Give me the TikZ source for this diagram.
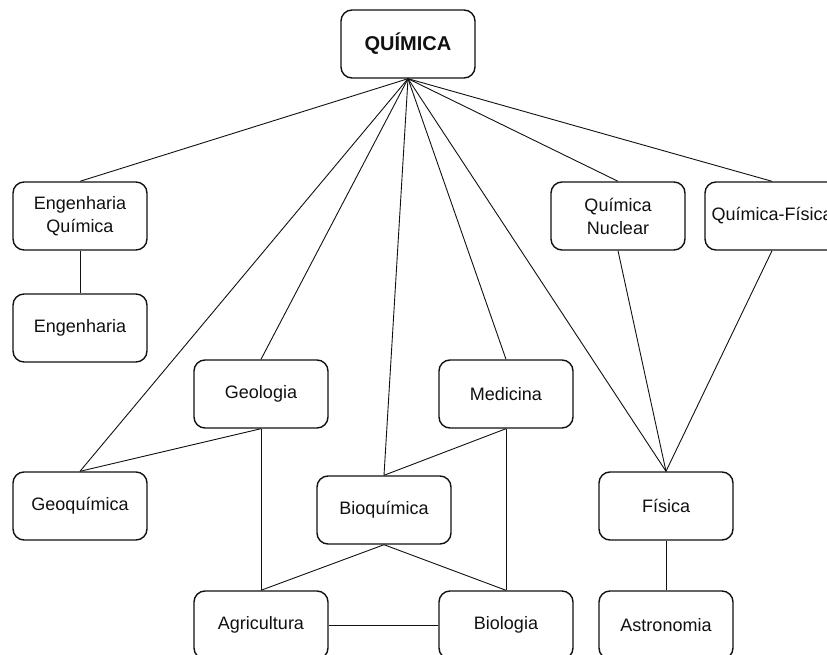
\documentclass[tikz,border=0pt]{standalone}
\usepackage{fontspec}
\setmainfont{Liberation Sans}
\definecolor{ink}{HTML}{111111}

\begin{document}
\begin{tikzpicture}[
  x=1pt,y=-1pt,
  text=ink,
  area/.style={draw=ink,line width=1.4pt,rounded corners=11pt,fill=white,
    minimum width=134pt,minimum height=68pt,align=center,
    font=\fontsize{18}{23}\selectfont},
  link/.style={draw=ink,line width=.9pt}
]
  \clip (0,0) rectangle (827,655);
  \useasboundingbox (0,0) rectangle (827,655);

  \node[area,font=\fontsize{20}{24}\selectfont\bfseries] (quimica) at (408,44) {QUÍMICA};

  \node[area] (engq) at (80,216) {Engenharia\\Química};
  \node[area] (eng) at (80,328) {Engenharia};
  \node[area] (qnuc) at (618,216) {Química\\Nuclear};
  \node[area] (qfis) at (772,216) {Química-Física};

  \node[area] (geologia) at (261,394) {Geologia};
  \node[area] (medicina) at (506,394) {Medicina};

  \node[area] (geoquimica) at (80,506) {Geoquímica};
  \node[area] (bioquimica) at (384,510) {Bioquímica};
  \node[area] (fisica) at (666,506) {Física};

  \node[area] (agricultura) at (261,625) {Agricultura};
  \node[area] (biologia) at (506,625) {Biologia};
  \node[area] (astronomia) at (666,625) {Astronomia};

  % ligações a partir do topo
  \foreach \n in {engq,geoquimica,geologia,bioquimica,medicina,fisica,qnuc,qfis}
    \draw[link] (quimica.south) -- (\n.north);

  \draw[link] (engq.south) -- (eng.north);
  \draw[link] (geologia.south) -- (geoquimica.north);
  \draw[link] (geologia.south) -- (agricultura.north);
  \draw[link] (medicina.south) -- (bioquimica.north);
  \draw[link] (medicina.south) -- (biologia.north);
  \draw[link] (bioquimica.south) -- (agricultura.north);
  \draw[link] (bioquimica.south) -- (biologia.north);
  \draw[link] (agricultura.east) -- (biologia.west);
  \draw[link] (qnuc.south) -- (fisica.north);
  \draw[link] (qfis.south) -- (fisica.north);
  \draw[link] (fisica.south) -- (astronomia.north);
\end{tikzpicture}
\end{document}
